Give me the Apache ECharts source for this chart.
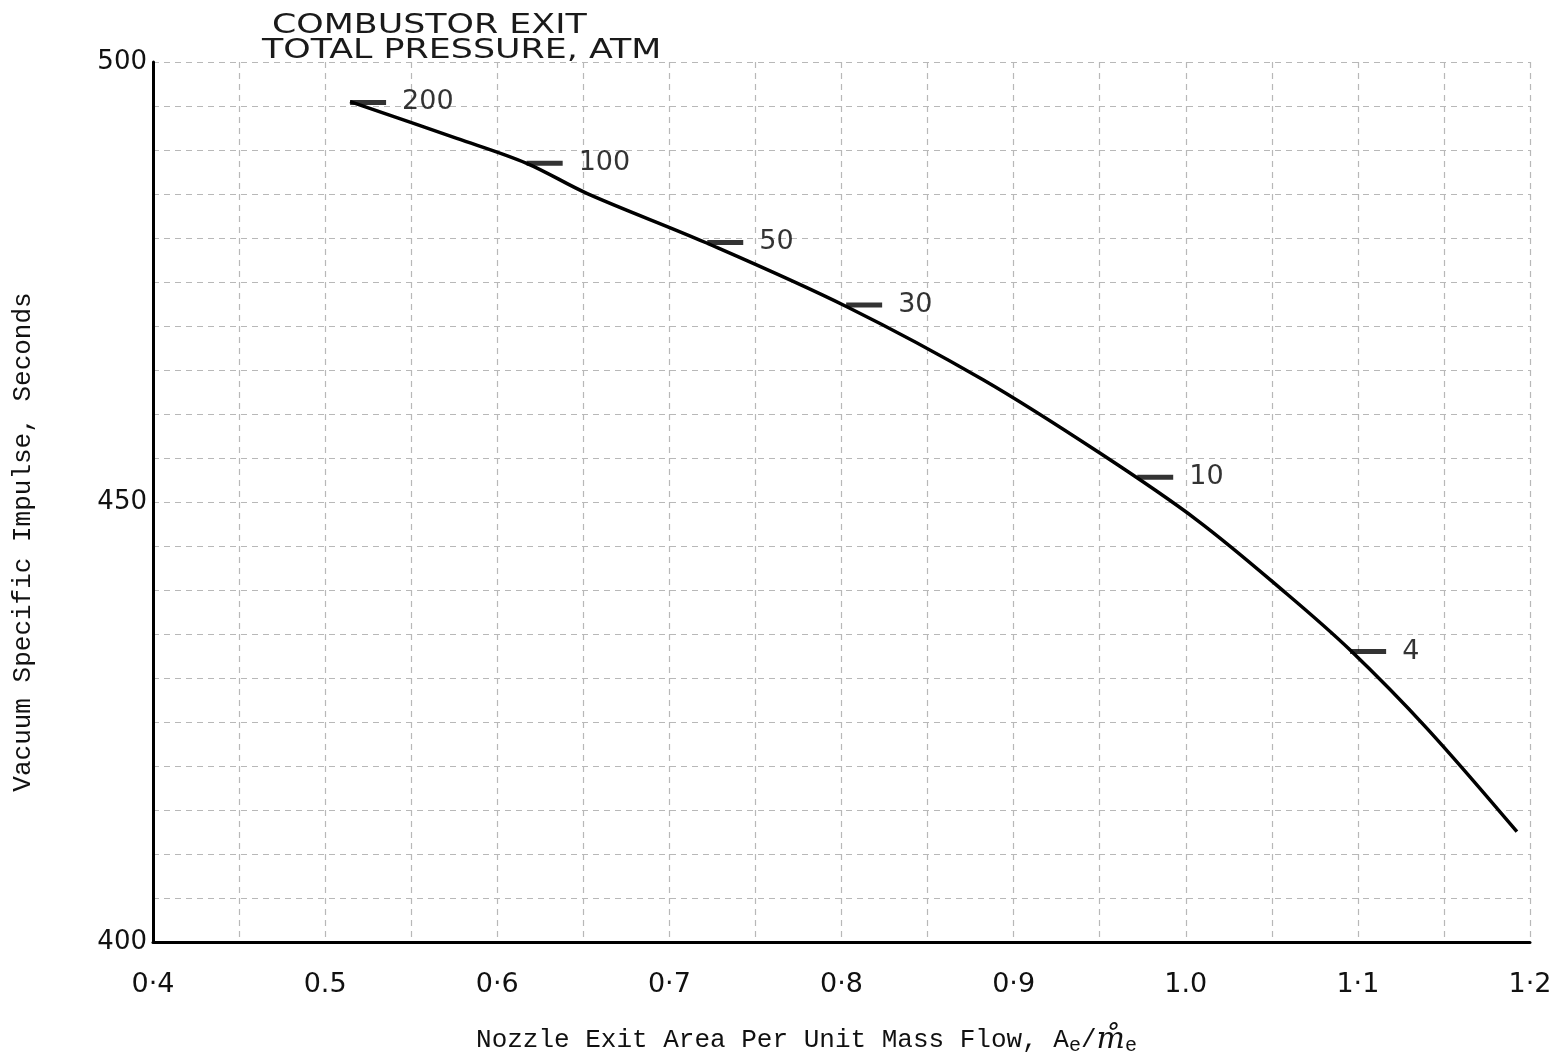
<!DOCTYPE html>
<html><head><meta charset="utf-8">
<script src="https://cdn.jsdelivr.net/npm/echarts@6/dist/echarts.min.js"></script>
<style>html,body{margin:0;padding:0;background:#fff}#c{width:1561px;height:1062px}</style>
</head><body><div id="c"></div>
<script>
// ---- data ----
const curveX = [0.5145, 0.5765, 0.6171, 0.6520, 0.7217, 0.8031, 0.8825, 0.9503, 1.0065, 1.0588, 1.0955, 1.1401, 1.1924];
const curveY = [495.49, 491.33, 488.49, 485.08, 479.43, 472.19, 463.86, 455.53, 447.95, 439.55, 433.18, 424.28, 412.53];
const pressures = [200, 100, 50, 30, 10, 4];
const pressureX = [0.5145, 0.6171, 0.7220, 0.8027, 0.9718, 1.0955];
const pressureY = [495.4, 488.5, 479.5, 472.4, 452.8, 433.0];
const xTickValues = [0.4, 0.5, 0.6, 0.7, 0.8, 0.9, 1.0, 1.1, 1.2];
const xTickLabels = ['0·4', '0.5', '0·6', '0·7', '0·8', '0·9', '1.0', '1·1', '1·2'];
const yTickValues = [400, 450, 500];
const yTickLabels = ['400', '450', '500'];
const titleLines = ['COMBUSTOR EXIT', 'TOTAL PRESSURE, ATM'];
const yName = 'Vacuum Specific Impulse, Seconds';
const xNameMain = 'Nozzle Exit Area Per Unit Mass Flow, A';

const chart = echarts.init(document.getElementById('c'), null, {renderer: 'canvas'});
const gridLine = {show: true, lineStyle: {color: '#b8b8b8', type: [6, 5], width: 1.2}};
const hand = 'DejaVu Sans';
const mono = 'Liberation Mono';

function lookup(vals, labels, v) {
  for (let i = 0; i < vals.length; i++) if (Math.abs(vals[i] - v) < 1e-6) return labels[i];
  return '';
}

chart.setOption({
  animation: false,
  backgroundColor: '#fff',
  grid: {left: 153, right: 31, top: 62, bottom: 120, containLabel: false},
  graphic: [
    {type: 'text', x: 272, y: 13, scaleX: 1.34, style: {text: titleLines[0], font: '26px "DejaVu Sans"', fill: '#1a1a1a', textVerticalAlign: 'top'}},
    {type: 'text', x: 262, y: 38, scaleX: 1.34, style: {text: titleLines[1], font: '26px "DejaVu Sans"', fill: '#1a1a1a', textVerticalAlign: 'top'}}
  ],
  xAxis: {
    type: 'value', min: 0.4, max: 1.2, interval: 0.1,
    axisLine: {show: true, onZero: false, lineStyle: {color: '#000', width: 3}},
    axisTick: {show: false},
    minorTick: {show: false, splitNumber: 2},
    splitLine: gridLine,
    minorSplitLine: gridLine,
    axisLabel: {margin: 29, fontFamily: hand, fontSize: 27, color: '#111',
      formatter: v => lookup(xTickValues, xTickLabels, v)},
    name: '{a|' + xNameMain + '}{s|e}{a|/}{i|m̊}{s|e}',
    nameLocation: 'middle', nameGap: 82,
    nameTextStyle: {
      padding: [0, 70, 0, 0],
      rich: {
        a: {fontFamily: mono, fontSize: 26, color: '#111'},
        s: {fontFamily: mono, fontSize: 20, color: '#111', padding: [12, 0, 0, 0]},
        i: {fontFamily: 'DejaVu Serif', fontStyle: 'italic', fontSize: 30, color: '#111'}
      }
    }
  },
  yAxis: {
    type: 'value', min: 400, max: 500, interval: 50,
    axisLine: {show: true, lineStyle: {color: '#000', width: 3}},
    axisTick: {show: false},
    minorTick: {show: false, splitNumber: 10},
    splitLine: gridLine,
    minorSplitLine: gridLine,
    axisLabel: {margin: 6, fontFamily: hand, fontSize: 26, color: '#111', padding: [8, 0, 0, 0],
      formatter: v => lookup(yTickValues, yTickLabels, v)},
    name: yName, nameLocation: 'middle', nameGap: 117, nameRotate: 90,
    nameTextStyle: {fontFamily: mono, fontSize: 26, color: '#111', padding: [0, 80, 0, 0]}
  },
  series: [
    {
      type: 'line', smooth: 0.35, showSymbol: false, symbol: 'none',
      lineStyle: {color: '#000', width: 3.5},
      data: curveX.map((x, i) => [x, curveY[i]]),
      z: 3
    },
    {
      type: 'scatter', symbol: 'rect', symbolSize: [36, 5], symbolOffset: [18, 0],
      itemStyle: {color: '#000'},
      label: {show: true, position: 'right', distance: 16, fontFamily: hand, fontSize: 27, color: '#000',
        formatter: p => String(p.value[2])},
      data: pressureX.map((x, i) => [x, pressureY[i], pressures[i]]),
      z: 4
    }
  ]
});
</script></body></html>
